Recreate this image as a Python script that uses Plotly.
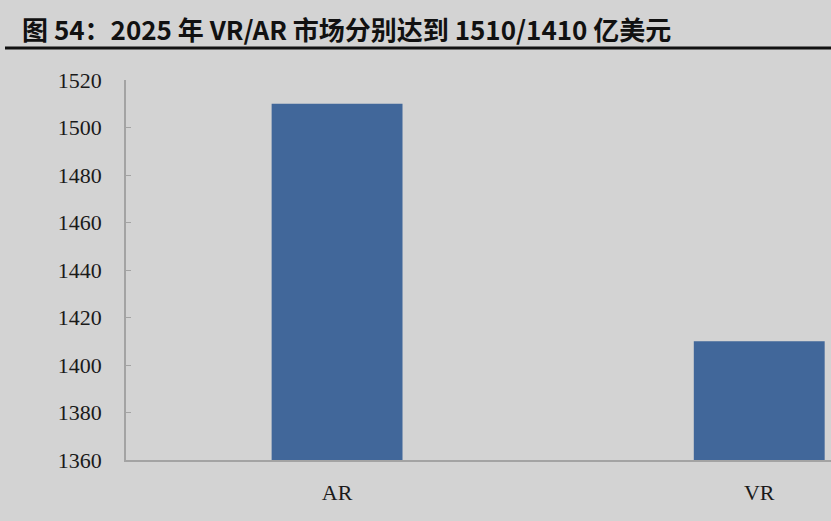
import plotly.graph_objects as go

# market size, 100M USD
categories = ["AR", "VR"]
values = [1510, 1410]
y_ticks = [1360, 1380, 1400, 1420, 1440, 1460, 1480, 1500, 1520]

bg = "#d3d3d3"
bar_color = "#41679a"
axis_grey = "#a3a3a3"

fig = go.Figure()
fig.add_trace(go.Bar(
    x=categories,
    y=values,
    width=0.31,
    marker=dict(color=bar_color, line=dict(width=0)),
))

fig.update_layout(
    width=831, height=521,
    paper_bgcolor=bg,
    plot_bgcolor=bg,
    margin=dict(l=126, r=0, t=80, b=61),
    showlegend=False,
    font=dict(family="Liberation Serif", color="#1a1a1a", size=22),
)

fig.update_xaxes(
    range=[-0.5, 1.17],
    showline=True, linecolor=axis_grey, linewidth=1.5,
    ticks="", showgrid=False,
    ticklabelstandoff=12,
    tickfont=dict(family="Liberation Serif", size=22),
)
fig.update_yaxes(
    range=[1360, 1520],
    tickvals=y_ticks,
    showline=True, linecolor=axis_grey, linewidth=1.5,
    ticks="inside", ticklen=5, tickcolor=axis_grey,
    ticklabelstandoff=18,
    showgrid=False, zeroline=False,
    tickfont=dict(family="Liberation Serif", size=22),
)

# title with rule underneath
fig.add_annotation(
    text="<b>图 54：2025 年 VR/AR 市场分别达到 1510/1410 亿美元</b>",
    xref="paper", yref="paper",
    x=-106 / 705, y=1 + 51 / 380,
    xanchor="left", yanchor="middle",
    showarrow=False,
    font=dict(family="Noto Sans CJK SC", size=26, color="#111111"),
)
fig.add_shape(
    type="line", xref="paper", yref="paper",
    x0=-121 / 705, x1=1.0, y0=1 + 32 / 380, y1=1 + 32 / 380,
    line=dict(color="#111111", width=3),
)

fig.write_html("out.html", config={"displayModeBar": False},
               post_script="document.body.style.margin='0';")
